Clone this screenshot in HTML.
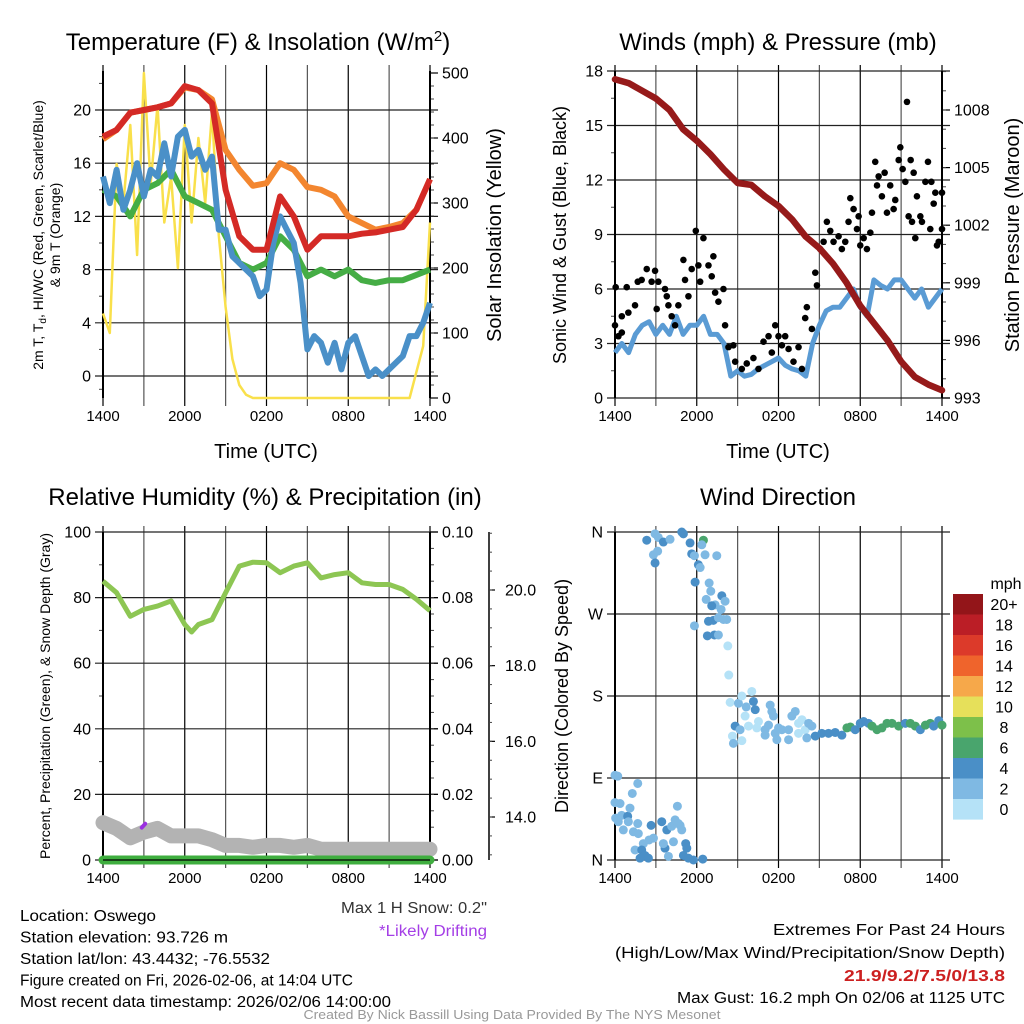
<!DOCTYPE html>
<html><head><meta charset="utf-8"><title>Oswego Meteogram</title>
<style>
html,body{margin:0;padding:0;background:#fff;}
svg{display:block;font-family:"Liberation Sans",Arial,sans-serif;}
</style></head>
<body>
<svg id="chart" width="1024" height="1024" viewBox="0 0 1024 1024" xmlns="http://www.w3.org/2000/svg"></svg>
<script>
// ---------- DATA ----------
const hours = [0,1,2,3,4,5,6,7,8,9,10,11,12,13,14,15,16,17,18,19,20,21,22,23,24];
const tempRed = [18,18.5,19.8,20,20.2,20.5,21.8,21.5,20.5,14,10.5,9.5,9.5,13.5,12,9.5,10.5,10.5,10.5,10.7,10.8,11,11.2,12.5,14.8];
const temp9m = [17.8,18.5,19.8,20,20.2,20.5,21.7,21.5,20.8,17,15.5,14.3,14.5,16,15.5,14.2,14,13.5,12,11.5,11,11.2,11.5,12.5,14.8];
const dewGreen = [14,13.5,12,14,14.5,15.5,13.5,13,12.5,10.5,8.5,8,8.5,10.5,9.5,7.5,8,7.5,8,7.2,7,7.2,7.2,7.6,8];
const halfHours = [0,0.5,1,1.5,2,2.5,3,3.5,4,4.5,5,5.5,6,6.5,7,7.5,8,8.5,9,9.5,10,10.5,11,11.5,12,12.5,13,13.5,14,14.5,15,15.5,16,16.5,17,17.5,18,18.5,19,19.5,20,20.5,21,21.5,22,22.5,23,23.5,24];
const hiwcBlue = [15,13,15.5,12.5,14,16,13.5,15.5,15,17.5,15,18,18.5,16.5,17,15.5,16.5,11,11,9,8.5,8,7.5,6,6.5,10,12,11,10,7,2,3,2.5,1,2.5,0.5,2.5,3,1.5,0,0.5,0,0.5,1,1.5,3,3,4,5.5];
const solar = [130,100,360,300,420,220,500,330,450,270,340,200,420,270,400,300,440,250,140,60,20,5,0,0,0,0,0,0,0,0,0,0,0,0,0,0,0,0,0,0,0,0,0,0,0,0,40,80,270];
const pressure = [1009.6,1009.4,1009,1008.6,1008,1007,1006.4,1005.7,1004.9,1004.2,1004.1,1003.5,1003,1002.3,1001.4,1000.8,1000,999,997.8,996.9,996,994.9,994.1,993.7,993.4];
const windSpeed = [2.5,3,2.5,3.5,4,4.2,3.5,4,3.5,4.5,3.5,4,4,4.5,3.5,3.5,3,1.2,1.5,1.2,1.3,1.6,1.8,2,2.2,1.8,1.6,1.5,1.2,3,4,4.8,5,5,5.5,6,5,4.5,6.5,6.2,6,6.5,6.5,6,5.5,6,5,5.5,6];
const gustHours = [0,0.05,0.25,0.5,0.86,0.5,0.98,1.47,1.67,1.96,2.33,2.69,2.94,3.18,3.06,3.67,3.8,3.92,4.16,4.41,4.65,5.02,5.14,5.39,5.63,5.93,6.12,6.25,6.49,6.86,7.1,7.22,7.35,7.59,7.96,8.08,8.33,8.69,8.82,9.31,9.67,10.16,10.53,10.9,11.27,11.51,11.76,12,12.25,12.49,12.74,13.1,13.47,13.72,13.96,14.08,14.45,14.7,14.82,15.06,15.31,15.55,15.8,16.04,16.41,16.65,16.9,17.14,17.27,17.51,17.76,17.88,18,18.25,18.49,18.74,18.86,19.1,19.23,19.35,19.59,19.79,19.96,20.2,20.45,20.57,20.82,20.94,21.11,21.31,21.43,21.55,21.7,21.8,21.92,22.04,22.16,22.41,22.53,22.78,22.97,23.14,23.22,23.39,23.51,23.63,23.76,24,24];
const gustValues = [4,6.1,3.4,3.6,6.1,4.5,4.7,5.1,6.4,6.5,7.1,6.4,7,6.4,4.9,6,5.6,5.1,4.5,4,5.1,7.6,6.5,5.6,7.1,9.2,7.3,6.4,8.8,7.3,6.7,7.8,5.8,5.3,6,4,2.8,2.9,2,1.6,1.9,2.2,1.6,3.1,3.4,2.5,4,3.4,2.9,3.4,2.7,2,2.8,1.6,4.4,5,3.8,6.9,6.2,8.2,8.6,9.7,9.2,8.6,8.9,8.2,8.6,9.7,11,10.4,9.3,10,8.4,8.8,8.2,9.1,10.2,13,11.7,12.2,11.1,12.4,10.2,11.7,10.4,10.9,13.1,13.8,12.6,11.9,16.3,10,13.1,9.7,12.4,8.8,11.1,10,9.7,11.9,13,9.3,11.9,10.7,11.3,8.4,8.6,9.3,11.3];
const rhHours = [0,1,2,3,4,5,6,6.5,7,8,9,10,11,12,13,14,15,16,17,18,19,20,21,22,23,24];
const rhValues = [85,81.5,74.3,76.4,77.4,79,71.8,69.5,71.8,73.3,81.5,89.6,90.8,90.6,87.6,89.6,90.6,86,87,87.6,84.5,84,84,82.5,79.5,76];
const snowDepth = [13.85,13.7,13.45,13.6,13.7,13.5,13.5,13.5,13.4,13.25,13.25,13.2,13.25,13.25,13.2,13.25,13.15,13.15,13.15,13.15,13.15,13.15,13.15,13.15,13.15];
const precip = [0,0,0,0,0,0,0,0,0,0,0,0,0,0,0,0,0,0,0,0,0,0,0,0,0];
const driftHours = [2.85,3.1];
const driftSnow = [13.72,13.82];
const dirHours = [2.33,2.94,3.18,3.55,4.04,2.82,3.13,2.94,4.9,5.02,5.51,6.49,6.37,5.63,5.83,6.61,7.47,6.12,6.25,5.88,6.91,7.03,7.84,8.08,6.69,7.35,7.1,7.79,6.86,7.22,7.59,8.2,7.96,5.83,6.78,7.3,7.59,8.28,8.35,8.45,9.06,9.31,9.63,10.04,10.16,10.29,9.55,8.82,9.18,9.8,10.53,10.41,11.02,11.39,11.51,11.63,11.27,11.02,11.76,12,12.25,12.74,12.98,13.23,13.47,13.72,13.96,14.21,14.45,13.47,14.08,8.62,8.69,9.31,11.88,12.74,14.7,15.18,15.67,16.16,16.65,17.02,17.27,17.63,18,18.25,18.61,18.86,19.23,19.59,19.96,20.33,20.82,21.31,21.67,22.04,22.41,22.78,23.14,23.39,23.76,24,
0,0.2,0,0.37,0.05,0.49,0.93,1.1,1.27,1.67,0.24,0.61,0.98,1.35,1.67,1.71,2.08,1.47,1.96,2.2,1.84,2.45,2.65,2.5,2.82,3.43,3.67,3.8,4.16,4.41,4.58,4.78,4.9,3.55,3.92,4.29,5.19,5.27,5.02,5.39,5.76,6.44,4.65];
const dirDegrees = [351,358,354,349,352,335,339,326,360,358,348,351,346,336,334,335,334,324,321,305,304,295,290,284,286,280,279,275,262,263,266,264,264,257,246,247,247,235,203,173,172,180,168,185,174,165,158,147,143,147,152,145,143,170,163,158,148,137,139,145,143,143,158,163,150,154,143,150,147,139,134,136,128,131,132,132,136,139,139,140,137,145,146,143,150,152,150,147,143,145,150,150,147,150,150,147,143,148,150,147,153,148,
93,92,63,62,46,49,48,57,73,84,42,33,42,31,40,29,18,11,11,5,2,2,38,22,24,42,13,33,37,44,59,38,33,18,4,20,18,13,5,2,0,1,40];
const dirSpeeds = [5,3,3,5,3,3,3,5,5,5,5,7,3,5,3,3,3,5,3,5,3,3,5,3,3,3,5,3,5,5,3,3,3,3,5,5,3,1,1,1,3,1,3,1,5,5,1,5,3,1,1,1,3,3,3,3,3,3,3,3,3,3,3,3,1,1,1,3,3,1,3,1,3,1,3,3,5,5,5,5,5,7,7,5,5,5,5,7,7,7,7,7,7,5,7,7,5,7,7,5,5,7,
3,3,3,3,3,3,5,3,3,3,3,3,3,3,3,3,3,3,5,5,5,5,5,3,3,5,5,5,3,3,3,3,3,3,3,3,5,5,5,5,5,5,3];
const xTickLabels = ["1400","2000","0200","0800","1400"];
const legendLabels = ["20+","18","16","14","12","10","8","6","4","2","0"];
const legendColors = ["#931519","#bb1e26","#dc3a2a","#ef642c","#f6a84a","#e6e05a","#7dc04a","#49a56d","#4a8fc7","#7fb9e3","#b5e2f7"];
const dirLabels = ["N","E","S","W","N"];

// ---------- HELPERS ----------
const NS = "http://www.w3.org/2000/svg";
const svg = document.getElementById('chart');
function mk(tag, attrs, parent){
  const e = document.createElementNS(NS, tag);
  for (const k in attrs) e.setAttribute(k, attrs[k]);
  (parent || svg).appendChild(e);
  return e;
}
function txt(s, x, y, size, anchor, parent, extra){
  const e = mk('text', Object.assign({x:x, y:y, 'font-size':size, 'text-anchor':anchor||'start', fill:'#000'}, extra||{}), parent);
  e.textContent = s;
  return e;
}
const X0 = [103, 615], X1 = [430, 942];
function xs(p, t){ return X0[p] + t/24*(X1[p]-X0[p]); }
function lin(d0, d1, r0, r1){ return v => r0 + (v-d0)/(d1-d0)*(r1-r0); }

function panelFrame(pi, g, yTop, yBot, yTicks, yScale, leftLabels, minorTicks){
  const x0 = X0[pi], x1 = X1[pi];
  for (let h=0; h<=24; h+=3){
    const x = xs(pi, h);
    const l = mk('line', {x1:x, y1:yTop-6, x2:x, y2:yBot+8, stroke:(h%6===0)?'#000':'#555', 'stroke-width':1.2}, g);
    
    
  }
  yTicks.forEach((v,i)=>{
    const y = yScale(v);
    const l = mk('line', {x1:x0-8, y1:y, x2:x1+8, y2:y, stroke:'#222', 'stroke-width':1.2}, g);
    
    
    const t = txt(leftLabels[i], x0-12, y+5.5, 16, 'end', g);
    
    
  });
  minorTicks.forEach(v=>{
    const y = yScale(v);
    const l = mk('line', {x1:x0-4, y1:y, x2:x0, y2:y, stroke:'#444', 'stroke-width':1}, g);
    
    
  });
  const ax = mk('line', {x1:x0, y1:yTop, x2:x0, y2:yBot, stroke:'#000', 'stroke-width':2}, g);
  
  
  xTickLabels.forEach((s,i)=>{
    const t = txt(s, xs(pi, i*6), yBot+23, 15, 'middle', g);
    
    
  });
}
function rightAxis(pi, g, ticks, scale, labels, minors, xLine){
  const x1 = xLine || X1[pi];
  ticks.forEach((v,i)=>{
    const y = scale(v);
    const l = mk('line', {x1:x1, y1:y, x2:x1+8, y2:y, stroke:'#000', 'stroke-width':1.2}, g);
    
    
    const t = txt(labels[i], x1+12, y+5.5, 16, 'start', g);
    
    
  });
  minors.forEach(v=>{
    const y = scale(v);
    const l = mk('line', {x1:x1, y1:y, x2:x1+4, y2:y, stroke:'#444', 'stroke-width':1}, g);
    
    
  });
}
function pathFrom(ts, vs, pi, scale){
  return ts.map((t,i)=>(i?'L':'M')+xs(pi,t).toFixed(1)+','+scale(vs[i]).toFixed(1)).join(' ');
}
function range(a,b,s){ const r=[]; for(let v=a; v<=b+1e-9; v+=s) r.push(+v.toFixed(4)); return r; }
function rotText(s, x, y, size, parent){
  return txt(s, 0, 0, size, 'middle', parent, {transform:'translate('+x+','+y+') rotate(-90)'});
}

// ---------- PANEL 1: Temperature ----------
const g1 = mk('g', {});  
const yT = lin(0, 20, 376, 110);
const yS = lin(0, 500, 398, 73);
let e;
e = txt('Temperature (F) & Insolation (W/m', 258, 50, 24, 'middle', g1);
const sup = mk('tspan', {dy:-9, 'font-size':15}, e); sup.textContent='2';
const sup2 = mk('tspan', {dy:9}, e); sup2.textContent=')';
 
panelFrame(0, g1, 71, 398, [0,4,8,12,16,20], yT, ['0','4','8','12','16','20'], [-1,2,6,10,14,18,22]);
rightAxis(0, g1, [0,100,200,300,400,500], yS, ['0','100','200','300','400','500'], range(20,480,20));
e = mk('line',{x1:430,y1:71,x2:430,y2:398,stroke:'#000','stroke-width':2},g1);  
e = mk('path',{d:pathFrom(halfHours, solar, 0, yS), fill:'none', stroke:'#f9e04b','stroke-width':2.5,'stroke-linejoin':'round'},g1);  
e = mk('path',{d:pathFrom(hours, temp9m, 0, yT), fill:'none', stroke:'#f3862f','stroke-width':6,'stroke-linejoin':'round'},g1);  
e = mk('path',{d:pathFrom(hours, dewGreen, 0, yT), fill:'none', stroke:'#45ad45','stroke-width':6,'stroke-linejoin':'round'},g1);  
e = mk('path',{d:pathFrom(halfHours, hiwcBlue, 0, yT), fill:'none', stroke:'#4a90c8','stroke-width':6,'stroke-linejoin':'round'},g1);  
e = mk('path',{d:pathFrom(hours, tempRed, 0, yT), fill:'none', stroke:'#d42a26','stroke-width':6,'stroke-linejoin':'round'},g1);  
e = txt('Time (UTC)', 266, 458, 20, 'middle', g1);  
e = rotText('2m T, T', 43, 235, 14, g1);
const td = mk('tspan',{dy:3,'font-size':10},e); td.textContent='d';
const td2 = mk('tspan',{dy:-3},e); td2.textContent=', HI/WC (Red, Green, Scarlet/Blue)';
 
e = rotText('& 9m T (Orange)', 60, 235, 14, g1);  
e = rotText('Solar Insolation (Yellow)', 501, 235, 20, g1);  

// ---------- PANEL 2: Winds ----------
const g2 = mk('g', {});  
const yW = lin(0, 18, 398, 71);
const yP = lin(993, 1008, 398, 110);
e = txt('Winds (mph) & Pressure (mb)', 778, 50, 24, 'middle', g2);  
panelFrame(1, g2, 71, 398, [0,3,6,9,12,15,18], yW, ['0','3','6','9','12','15','18'], [1.5,4.5,7.5,10.5,13.5,16.5]);
rightAxis(1, g2, [993,996,999,1002,1005,1008], yP, ['993','996','999','1002','1005','1008'], range(994,1010,1));
e = mk('line',{x1:942,y1:71,x2:942,y2:398,stroke:'#000','stroke-width':2},g2);  
e = mk('path',{d:pathFrom(halfHours, windSpeed, 1, yW), fill:'none', stroke:'#5a9bd4','stroke-width':5,'stroke-linejoin':'round'},g2);  
gustHours.forEach((t,i)=>{
  const c = mk('circle',{cx:xs(1,t), cy:yW(gustValues[i]), r:3.3, fill:'#000'},g2);
  
  
});
e = mk('path',{d:pathFrom(hours, pressure, 1, yP), fill:'none', stroke:'#961a1a','stroke-width':6.5,'stroke-linejoin':'round','stroke-linecap':'round'},g2);  
e = txt('Time (UTC)', 778, 458, 20, 'middle', g2);  
e = rotText('Sonic Wind & Gust (Blue, Black)', 566, 235, 18, g2);  
e = rotText('Station Pressure (Maroon)', 1019, 235, 20, g2);  

// ---------- PANEL 3: RH ----------
const g3 = mk('g', {});  
const yR = lin(0, 100, 860, 532);
const yPr = lin(0, 0.1, 860, 532);
const ySn = lin(14, 20, 817, 590);
e = txt('Relative Humidity (%) & Precipitation (in)', 265, 505, 24, 'middle', g3);  
panelFrame(0, g3, 532, 860, [0,20,40,60,80,100], yR, ['0','20','40','60','80','100'], [10,30,50,70,90]);
rightAxis(0, g3, [0,0.02,0.04,0.06,0.08,0.1], yPr, ['0.00','0.02','0.04','0.06','0.08','0.10'], range(0.005,0.095,0.005));
e = mk('line',{x1:430,y1:532,x2:430,y2:860,stroke:'#000','stroke-width':2},g3);  
e = mk('line',{x1:489,y1:532,x2:489,y2:860,stroke:'#000','stroke-width':1.5},g3);  
[14,16,18,20].forEach(v=>{
  const l = mk('line',{x1:489,y1:ySn(v),x2:495,y2:ySn(v),stroke:'#000','stroke-width':1.2},g3);
  
  
  const t = txt(v.toFixed(1), 505, ySn(v)+5.5, 16, 'start', g3);
  
  
});
range(13,21.5,0.5).forEach(v=>{
  const l = mk('line',{x1:489,y1:ySn(v),x2:492,y2:ySn(v),stroke:'#444','stroke-width':1},g3);
  
  
});
e = mk('path',{d:pathFrom(hours, snowDepth, 0, ySn), fill:'none', stroke:'#b3b3b3','stroke-width':15,'stroke-linejoin':'round','stroke-linecap':'round'},g3);  
e = mk('path',{d:pathFrom(driftHours, driftSnow, 0, ySn), fill:'none', stroke:'#9b30e0','stroke-width':4,'stroke-linecap':'round'},g3);  
e = mk('path',{d:pathFrom(hours, precip, 0, yPr), fill:'none', stroke:'#3fae3f','stroke-width':9,'stroke-linecap':'round'},g3);  
e = mk('path',{d:pathFrom(rhHours, rhValues, 0, yR), fill:'none', stroke:'#8dc653','stroke-width':5,'stroke-linejoin':'round'},g3);  
e = mk('line',{x1:103,y1:860,x2:430,y2:860,stroke:'#000','stroke-width':1.2},g3);
 
e = rotText('Percent, Precipitation (Green), & Snow Depth (Gray)', 50, 696, 14, g3);  

// ---------- PANEL 4: Wind Direction ----------
const g4 = mk('g', {});  
const yD = lin(0, 360, 860, 532);
e = txt('Wind Direction', 778, 505, 24, 'middle', g4);  
panelFrame(1, g4, 532, 860, [0,90,180,270,360], yD, dirLabels, []);
function spdColor(s){ const idx = Math.min(10, Math.floor(s/2)); return legendColors[10-idx]; }
dirHours.forEach((t,i)=>{
  const c = mk('circle',{cx:xs(1,t), cy:yD(dirDegrees[i]), r:4.5, fill:spdColor(dirSpeeds[i])},g4);
  
  
});
e = rotText('Direction (Colored By Speed)', 568, 696, 18, g4);  
const leg = mk('g',{},g4);  
e = txt('mph', 1006, 589, 16, 'middle', leg);  
legendLabels.forEach((s,i)=>{
  const r = mk('rect',{x:953, y:594+i*20.5, width:30, height:20.6, fill:legendColors[i]}, leg);
  
  
  const t = txt(s, 1004, 610+i*20.5, 16, 'middle', leg);
  
  
});

// ---------- FOOTER TEXT ----------
const ft = mk('g',{});  
const leftLines = ["Location: Oswego","Station elevation: 93.726 m","Station lat/lon: 43.4432; -76.5532","Figure created on Fri, 2026-02-06, at 14:04 UTC","Most recent data timestamp: 2026/02/06 14:00:00"];
const leftW = [136,208,250,333,371];
leftLines.forEach((s,i)=>{
  const t = txt(s, 20, 921+i*21.5, 15.5, 'start', ft, {textLength:leftW[i], lengthAdjust:'spacingAndGlyphs'});
  
  
});
e = txt('Max 1 H Snow: 0.2"', 487, 913, 15.5, 'end', ft, {fill:'#333', textLength:146, lengthAdjust:'spacingAndGlyphs'});  
e = txt('*Likely Drifting', 487, 936, 15.5, 'end', ft, {fill:'#a43ee6', textLength:108, lengthAdjust:'spacingAndGlyphs'});  
e = txt('Extremes For Past 24 Hours', 1005, 935, 16, 'end', ft, {textLength:232, lengthAdjust:'spacingAndGlyphs'});  
e = txt('(High/Low/Max Wind/Precipitation/Snow Depth)', 1005, 958, 16, 'end', ft, {textLength:390, lengthAdjust:'spacingAndGlyphs'});  
e = txt('21.9/9.2/7.5/0/13.8', 1005, 981, 16, 'end', ft, {fill:'#cc2020','font-weight':'bold', textLength:161, lengthAdjust:'spacingAndGlyphs'});  
e = txt('Max Gust: 16.2 mph On 02/06 at 1125 UTC', 1005, 1003, 15.5, 'end', ft, {textLength:328, lengthAdjust:'spacingAndGlyphs'});  
e = txt('Created By Nick Bassill Using Data Provided By The NYS Mesonet', 512, 1019, 13, 'middle', ft, {fill:'#999', textLength:417, lengthAdjust:'spacingAndGlyphs'});
 
</script>
</body></html>
